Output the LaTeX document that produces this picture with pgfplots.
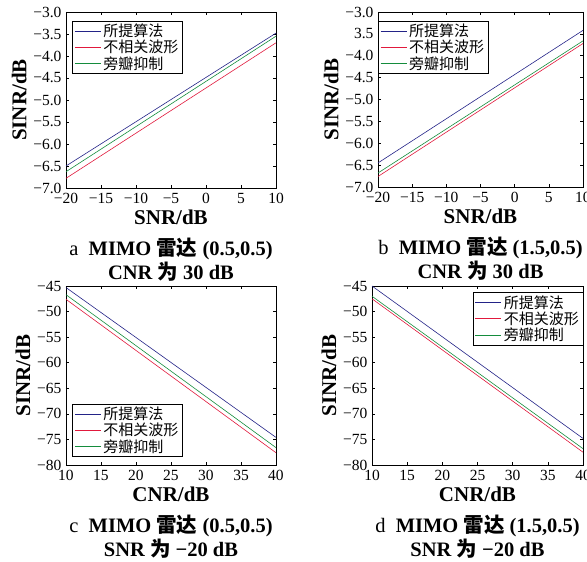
\documentclass[border=0pt]{standalone}
\usepackage{pgfplots}
\pgfplotsset{compat=1.18}
\usepackage{fontspec}
\setmainfont{Liberation Serif}
\newfontfamily\cjk{Noto Sans CJK SC}

\definecolor{cblue}{RGB}{35,35,135}
\definecolor{cred}{RGB}{225,25,60}
\definecolor{cgreen}{RGB}{20,140,60}

\pgfplotsset{
  panel/.style={
    scale only axis,
    clip=false,
    axis line style={black,line width=0.6pt},
    tick align=inside,
    tick style={black,line width=0.5pt},
    major tick length=3pt,
    ticklabel style={font=\fontsize{15.5}{15.5}\selectfont},
    xticklabel style={yshift=-2pt},
    yticklabel style={xshift=-1pt},
    label style={font=\fontsize{21}{21}\selectfont\bfseries},
    xlabel style={yshift=1pt},
    legend style={font=\fontsize{15}{17}\selectfont\cjk,draw=black,line width=0.5pt,
      inner xsep=2pt,inner ysep=1pt,row sep=-2pt,cells={anchor=west}},
    legend image code/.code={\draw[#1,line width=0.8pt] (0pt,0pt) -- (26pt,0pt);},
    every axis plot/.append style={line width=0.6pt,mark=none},
  },
  snrx/.style={xmin=-20,xmax=10,xtick={-20,-15,...,10},
    xticklabels={−20,−15,−10,−5,0,5,10},xlabel={SNR/dB},
    ymin=-7,ymax=-3,ytick={-7,-6.5,...,-3},ylabel={SINR/dB}},
  cnrx/.style={xmin=10,xmax=40,xtick={10,15,...,40},
    xticklabels={10,15,20,25,30,35,40},xlabel={CNR/dB},
    ymin=-80,ymax=-45,ytick={-80,-75,...,-45},
    yticklabels={−80,−75,−70,−65,−60,−55,−50,−45},ylabel={SINR/dB}},
}
\newcommand{\capt}[3]{\node[anchor=north,align=center,
  font=\fontsize{20.5}{24}\selectfont\bfseries] at (rel axis cs:0.5,0)
  [yshift=-47pt] {{\mdseries #1}\enspace MIMO {\cjk 雷达} #2\\#3};}

\begin{document}
\begin{tikzpicture}
\useasboundingbox (0,0) rectangle (587pt,562pt);

% a
\begin{axis}[panel,snrx,at={(66pt,374pt)},width=210pt,height=176pt,
  yticklabels={−7.0,−6.5,−6.0,−5.5,−5.0,−4.5,−4.0,−3.5,−3.0},
  legend style={at={(0.03,0.95)},anchor=north west}]
\addplot[cblue] coordinates {(-20,-6.50) (10,-3.48)};
\addlegendentry{所提算法}
\addplot[cred] coordinates {(-20,-6.78) (10,-3.70)};
\addlegendentry{不相关波形}
\addplot[cgreen] coordinates {(-20,-6.63) (10,-3.55)};
\addlegendentry{旁瓣抑制}
\capt{a}{(0.5,0.5)}{CNR {\cjk 为} 30 dB}
\end{axis}

% b
\begin{axis}[panel,snrx,at={(378pt,375pt)},width=205pt,height=175pt,
  yticklabels={−7.0,−6.5,−6.0,−5.5,−5.0,−4.5,−4.0,3.5,−3.0},
  legend style={at={(0.0,0.95)},anchor=north west}]
\addplot[cblue] coordinates {(-20,-6.45) (10,-3.42)};
\addlegendentry{所提算法}
\addplot[cred] coordinates {(-20,-6.76) (10,-3.72)};
\addlegendentry{不相关波形}
\addplot[cgreen] coordinates {(-20,-6.68) (10,-3.66)};
\addlegendentry{旁瓣抑制}
\capt{b}{(1.5,0.5)}{CNR {\cjk 为} 30 dB}
\end{axis}

% c
\begin{axis}[panel,cnrx,at={(66pt,97pt)},width=210pt,height=179pt,
  legend style={at={(0.03,0.045)},anchor=south west}]
\addplot[cblue] coordinates {(10,-45.3) (40,-74.6)};
\addlegendentry{所提算法}
\addplot[cred] coordinates {(10,-47.6) (40,-77.6)};
\addlegendentry{不相关波形}
\addplot[cgreen] coordinates {(10,-46.7) (40,-76.6)};
\addlegendentry{旁瓣抑制}
\capt{c}{(0.5,0.5)}{SNR {\cjk 为} −20 dB}
\end{axis}

% d
\begin{axis}[panel,cnrx,at={(372pt,97pt)},width=211pt,height=179pt,
  legend style={at={(1,0.965)},anchor=north east}]
\addplot[cblue] coordinates {(10,-45.0) (40,-74.8)};
\addlegendentry{所提算法}
\addplot[cred] coordinates {(10,-47.5) (40,-77.5)};
\addlegendentry{不相关波形}
\addplot[cgreen] coordinates {(10,-47.0) (40,-76.8)};
\addlegendentry{旁瓣抑制}
\capt{d}{(1.5,0.5)}{SNR {\cjk 为} −20 dB}
\end{axis}
\end{tikzpicture}
\end{document}
